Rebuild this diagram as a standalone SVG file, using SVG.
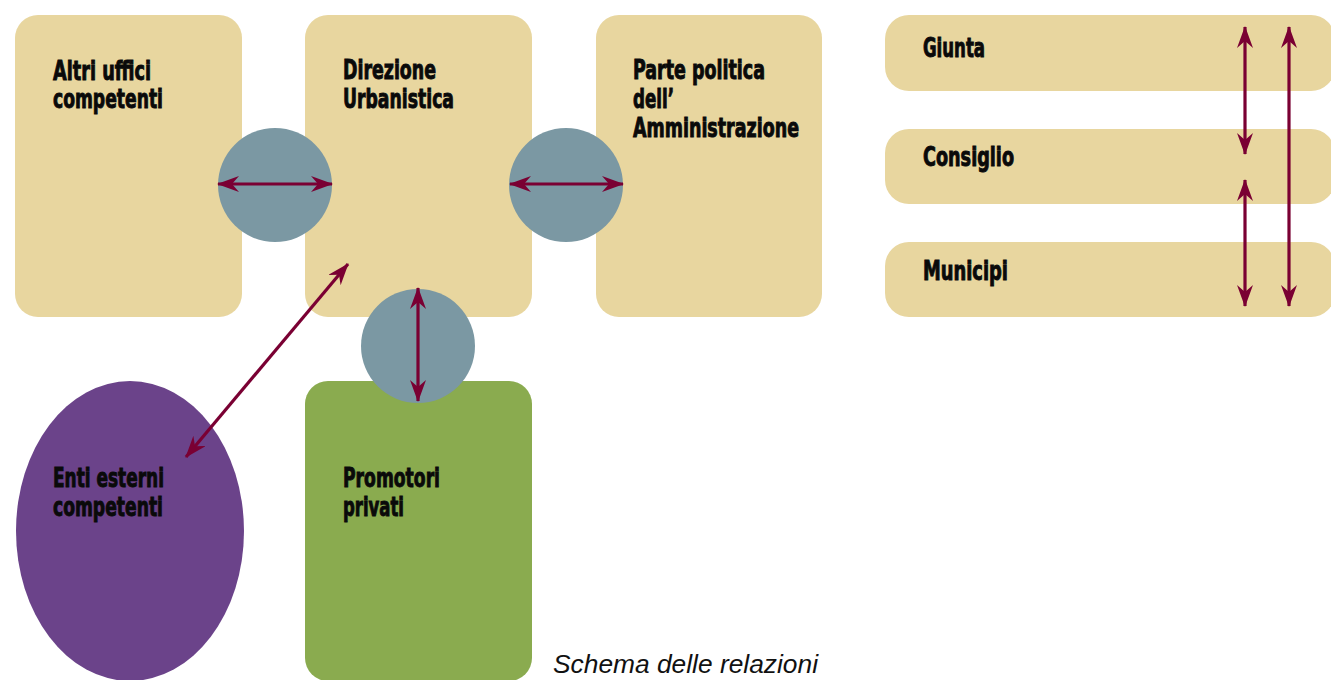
<svg xmlns="http://www.w3.org/2000/svg" width="1331" height="680" viewBox="0 0 1331 680">
  <style>
    .box { fill: #E8D69F; }
    .hub { fill: #7B98A3; }
    .lbl { font-family: "Liberation Sans Narrow", "DejaVu Sans Condensed", "Liberation Sans", sans-serif; font-weight: bold; font-size: 26px; fill: #0a0a0a; stroke: #0a0a0a; stroke-width: 0.9; }
    .link { stroke: #7A0033; stroke-width: 3.2; fill: none; marker-start: url(#head); marker-end: url(#head); }
    .caption { font-family: "Liberation Sans", Arial, sans-serif; font-style: italic; font-size: 26px; fill: #111; }
  </style>
  <defs>
    <!-- barbed double-ended connector head -->
    <marker id="head" viewBox="0 0 22 16" refX="21" refY="8" markerWidth="22" markerHeight="16" markerUnits="userSpaceOnUse" orient="auto-start-reverse">
      <path d="M0,0 L22,8 L0,16 L7,8 z" fill="#7A0033"/>
    </marker>
  </defs>

  <rect width="1331" height="680" fill="#ffffff"/>

  <g id="altri-uffici">
    <rect class="box" x="15" y="15" width="227" height="302" rx="23"/>
    <text class="lbl" x="53" y="80" textLength="98" lengthAdjust="spacingAndGlyphs">Altri uffici</text>
    <text class="lbl" x="53" y="108" textLength="110" lengthAdjust="spacingAndGlyphs">competenti</text>
  </g>

  <g id="direzione-urbanistica">
    <rect class="box" x="305" y="15" width="227" height="302" rx="23"/>
    <text class="lbl" x="343" y="79" textLength="93" lengthAdjust="spacingAndGlyphs">Direzione</text>
    <text class="lbl" x="343" y="108" textLength="111" lengthAdjust="spacingAndGlyphs">Urbanistica</text>
  </g>

  <g id="parte-politica">
    <rect class="box" x="596" y="15" width="226" height="302" rx="23"/>
    <text class="lbl" x="633" y="79" textLength="132" lengthAdjust="spacingAndGlyphs">Parte politica</text>
    <text class="lbl" x="633" y="108" textLength="41" lengthAdjust="spacingAndGlyphs">dell’</text>
    <text class="lbl" x="633" y="137" textLength="166" lengthAdjust="spacingAndGlyphs">Amministrazione</text>
  </g>

  <g id="giunta">
    <rect class="box" x="885" y="15" width="450" height="76" rx="24"/>
    <text class="lbl" x="923" y="57" textLength="62" lengthAdjust="spacingAndGlyphs">Giunta</text>
  </g>

  <g id="consiglio">
    <rect class="box" x="885" y="129" width="450" height="75" rx="24"/>
    <text class="lbl" x="923" y="166" textLength="91" lengthAdjust="spacingAndGlyphs">Consiglio</text>
  </g>

  <g id="municipi">
    <rect class="box" x="885" y="242" width="450" height="75" rx="24"/>
    <text class="lbl" x="923" y="280" textLength="85" lengthAdjust="spacingAndGlyphs">Municipi</text>
  </g>

  <g id="enti-esterni">
    <ellipse cx="130" cy="531" rx="114" ry="150" fill="#6B438A"/>
    <text class="lbl" x="53" y="487" textLength="111" lengthAdjust="spacingAndGlyphs">Enti esterni</text>
    <text class="lbl" x="53" y="516" textLength="110" lengthAdjust="spacingAndGlyphs">competenti</text>
  </g>

  <g id="promotori-privati">
    <rect x="305" y="381" width="227" height="300" rx="23" fill="#8AAB4F"/>
    <text class="lbl" x="343" y="487" textLength="97" lengthAdjust="spacingAndGlyphs">Promotori</text>
    <text class="lbl" x="343" y="516" textLength="61" lengthAdjust="spacingAndGlyphs">privati</text>
  </g>

  <g id="hubs">
    <circle class="hub" cx="275" cy="185" r="57"/>
    <circle class="hub" cx="566" cy="185" r="57"/>
    <circle class="hub" cx="418" cy="346" r="57"/>
  </g>

  <g id="connectors">
    <line class="link" x1="218" y1="184" x2="332" y2="184"/>
    <line class="link" x1="510" y1="184" x2="623" y2="184"/>
    <line class="link" x1="418" y1="288" x2="418" y2="401"/>
    <line class="link" x1="348" y1="264" x2="186" y2="457"/>
    <line class="link" x1="1245" y1="27" x2="1245" y2="154"/>
    <line class="link" x1="1245" y1="180" x2="1245" y2="306"/>
    <line class="link" x1="1289" y1="27" x2="1289" y2="306"/>
  </g>

  <text class="caption" x="553" y="673" textLength="265" lengthAdjust="spacingAndGlyphs">Schema delle relazioni</text>
</svg>
